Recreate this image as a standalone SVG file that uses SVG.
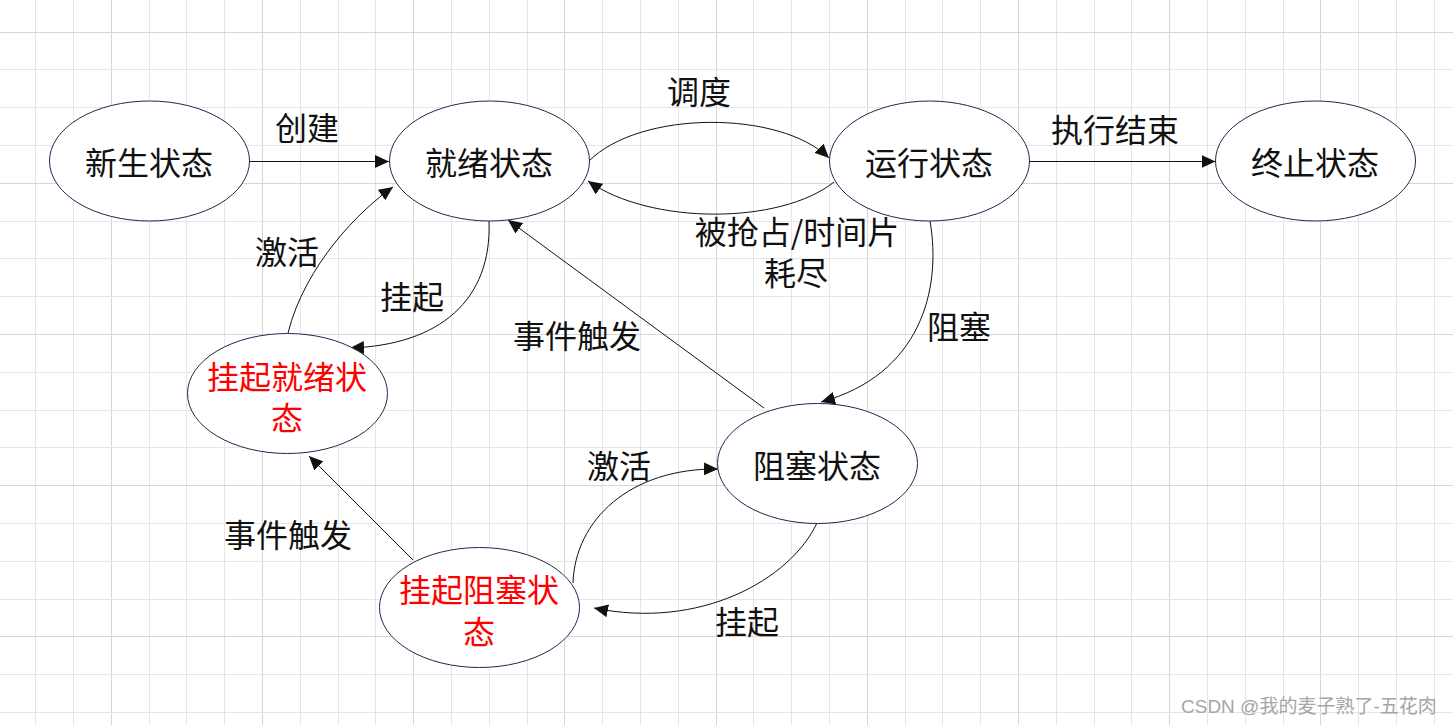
<svg xmlns="http://www.w3.org/2000/svg" width="1453" height="725" viewBox="0 0 1453 725">
<defs>
<style>
.grid{stroke:#e6e6e6;stroke-width:1;fill:none}
.gridm{stroke:#d6d6d6;stroke-width:1;fill:none}
.node{fill:#ffffff;stroke:#25254d;stroke-width:1}
.nt{font-family:"Noto Sans CJK SC","Noto Sans",sans-serif;font-size:32px;fill:#111111;text-anchor:middle}
.red{fill:#ff0000}
.lbl{font-family:"Noto Sans CJK SC","Noto Sans",sans-serif;font-size:32px;fill:#111111;text-anchor:middle}
.edge{fill:none;stroke:#111111;stroke-width:1}
.wm{font-family:"Liberation Sans","Noto Sans CJK SC",sans-serif;font-size:19px;fill:#a6a6a6}
</style>
<marker id="arr" markerUnits="userSpaceOnUse" markerWidth="14" markerHeight="13" viewBox="0 0 13 12" refX="13" refY="6" orient="auto">
<path d="M0,0 L13,6 L0,12 z" fill="#111111"/>
</marker>
</defs>
<rect x="0" y="0" width="1453" height="725" fill="#ffffff"/>
<g id="grid">
<path class="grid" d="M35.5,0V725M73.5,0V725M149.5,0V725M186.5,0V725M224.5,0V725M300.5,0V725M338.5,0V725M375.5,0V725M451.5,0V725M489.5,0V725M527.5,0V725M602.5,0V725M640.5,0V725M678.5,0V725M753.5,0V725M791.5,0V725M829.5,0V725M905.5,0V725M942.5,0V725M980.5,0V725M1056.5,0V725M1094.5,0V725M1131.5,0V725M1207.5,0V725M1245.5,0V725M1283.5,0V725M1358.5,0V725M1396.5,0V725M1434.5,0V725"/>
<path class="gridm" d="M111.5,0V725M262.5,0V725M413.5,0V725M564.5,0V725M716.5,0V725M867.5,0V725M1018.5,0V725M1169.5,0V725M1320.5,0V725"/>
<path class="grid" d="M0,69.5H1453M0,107.5H1453M0,145.5H1453M0,221.5H1453M0,258.5H1453M0,296.5H1453M0,372.5H1453M0,410.5H1453M0,447.5H1453M0,523.5H1453M0,561.5H1453M0,599.5H1453M0,674.5H1453M0,712.5H1453"/>
<path class="gridm" d="M0,32.5H1453M0,183.5H1453M0,334.5H1453M0,485.5H1453M0,636.5H1453"/>
</g>
<g id="connectors">
<path class="edge" d="M249.5,161.5 L389,161.5" marker-end="url(#arr)"/>
<path class="edge" d="M589,161 C640,110 780,110 829,158" marker-end="url(#arr)"/>
<path class="edge" d="M834,182 C780,225 650,225 588,181" marker-end="url(#arr)"/>
<path class="edge" d="M1029.5,161.5 L1215.5,161.5" marker-end="url(#arr)"/>
<path class="edge" d="M930,221 C942,290 920,375 821,402" marker-end="url(#arr)"/>
<path class="edge" d="M489,221 C492,300 440,345 350,348" marker-end="url(#arr)"/>
<path class="edge" d="M288,333 C305,265 360,210 393,187" marker-end="url(#arr)"/>
<path class="edge" d="M764,408 L508,220" marker-end="url(#arr)"/>
<path class="edge" d="M413,560 L309,456" marker-end="url(#arr)"/>
<path class="edge" d="M573,583 C575,520 630,468 718,469" marker-end="url(#arr)"/>
<path class="edge" d="M817,523 C790,580 700,630 594,608" marker-end="url(#arr)"/>
</g>
<g id="labels">
<text class="lbl" x="307" y="140">创建</text>
<text class="lbl" x="699" y="104">调度</text>
<text class="lbl" x="797" y="244">被抢占/时间片</text>
<text class="lbl" x="796" y="285">耗尽</text>
<text class="lbl" x="1115" y="142">执行结束</text>
<text class="lbl" x="287" y="264">激活</text>
<text class="lbl" x="412" y="309">挂起</text>
<text class="lbl" x="577" y="348">事件触发</text>
<text class="lbl" x="959" y="339">阻塞</text>
<text class="lbl" x="619" y="478">激活</text>
<text class="lbl" x="288" y="547">事件触发</text>
<text class="lbl" x="747" y="634">挂起</text>
</g>
<g id="node-new">
<ellipse class="node" cx="149.5" cy="161" rx="100" ry="60"/>
<text class="nt" x="149" y="175">新生状态</text>
</g>
<g id="node-ready">
<ellipse class="node" cx="489.5" cy="161" rx="100" ry="60"/>
<text class="nt" x="489" y="175">就绪状态</text>
</g>
<g id="node-running">
<ellipse class="node" cx="929.5" cy="161" rx="100" ry="60"/>
<text class="nt" x="929" y="175">运行状态</text>
</g>
<g id="node-terminated">
<ellipse class="node" cx="1315.5" cy="161" rx="100" ry="60"/>
<text class="nt" x="1315" y="175">终止状态</text>
</g>
<g id="node-suspended-ready">
<ellipse class="node" cx="287.5" cy="393.5" rx="100" ry="60"/>
<text class="nt red" x="287" y="389">挂起就绪状</text>
<text class="nt red" x="287" y="430">态</text>
</g>
<g id="node-blocked">
<ellipse class="node" cx="817.5" cy="463.5" rx="100" ry="60"/>
<text class="nt" x="817" y="478">阻塞状态</text>
</g>
<g id="node-suspended-blocked">
<ellipse class="node" cx="479.5" cy="607.5" rx="100" ry="60"/>
<text class="nt red" x="479" y="602">挂起阻塞状</text>
<text class="nt red" x="479" y="644">态</text>
</g>
<text class="wm" x="1181" y="713">CSDN @我的麦子熟了-五花肉</text>
</svg>
